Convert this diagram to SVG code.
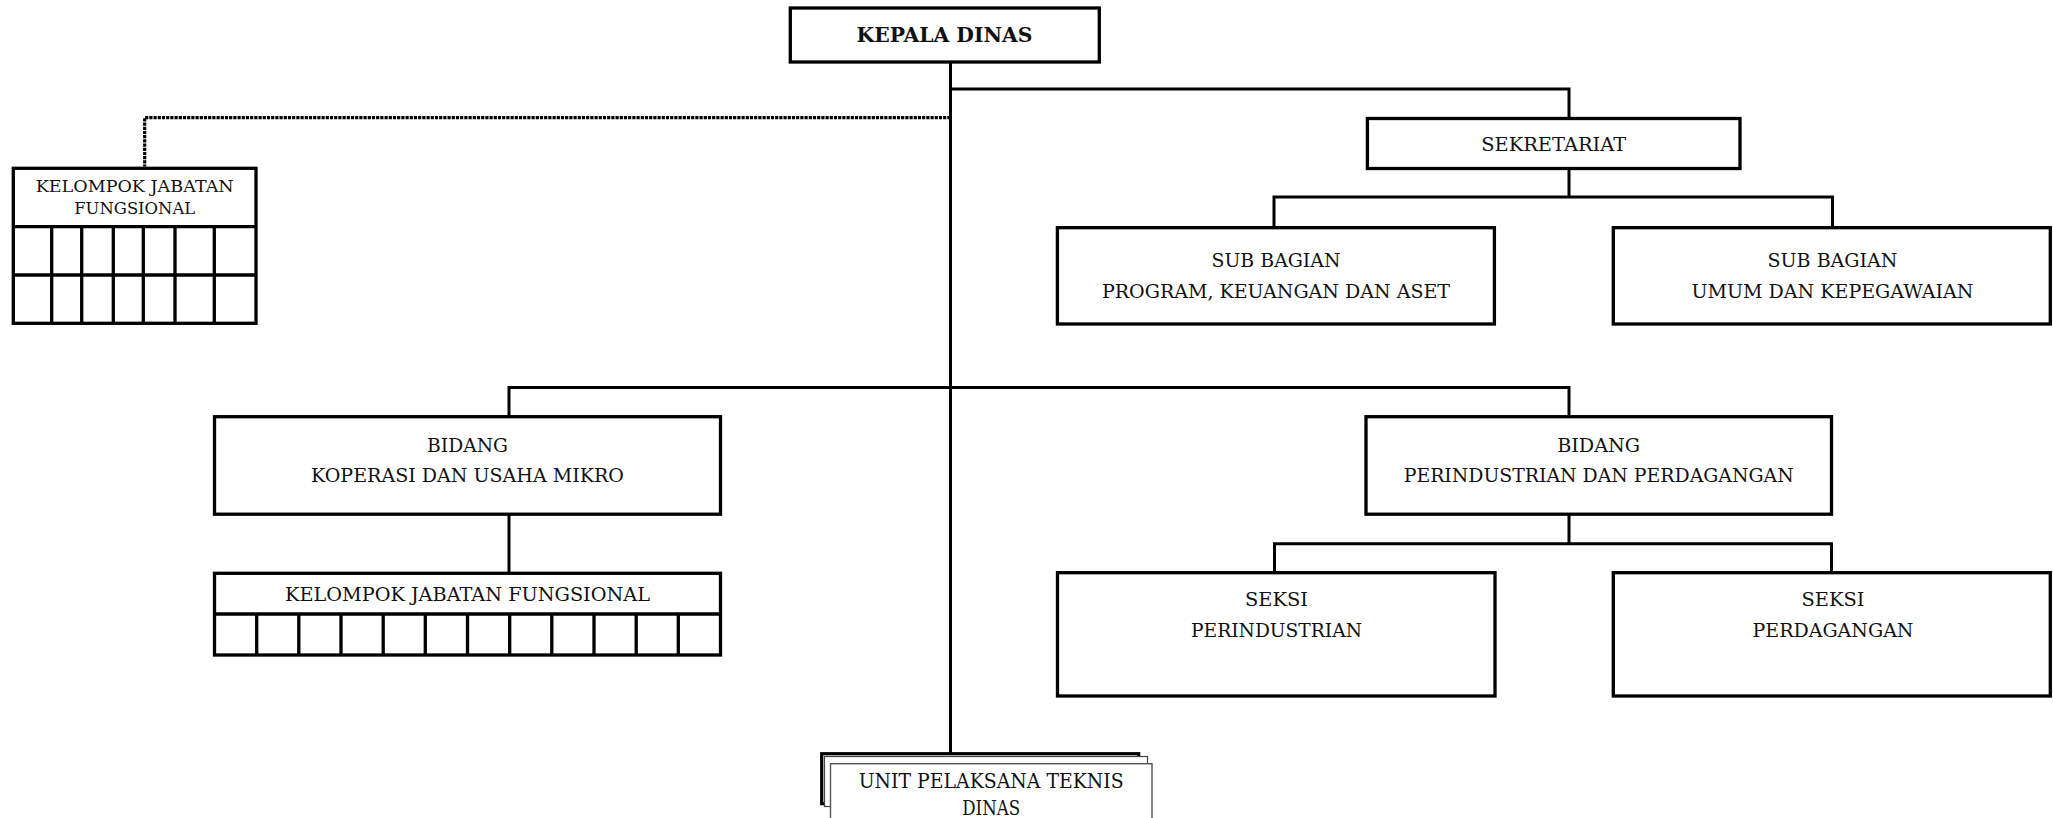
<svg xmlns="http://www.w3.org/2000/svg" width="2053" height="818" viewBox="0 0 2053 818">
  <style>
    .box { fill: #fff; stroke: #000; stroke-width: 3.3; }
    .grid { fill: none; stroke: #000; stroke-width: 3.3; }
    .link { fill: none; stroke: #000; stroke-width: 3; stroke-linejoin: miter; stroke-linecap: square; }
    .dot { fill: none; stroke: #000; stroke-width: 3.2; stroke-dasharray: 3.2 1; }
    text { font-family: "DejaVu Serif", "Liberation Serif", serif; font-size: 18.8px; fill: #111; text-anchor: middle; }
    .head { font-weight: bold; font-size: 20px; }
    .small { font-size: 17px; }
    .upt { font-size: 19.8px; }
  </style>

  <rect width="2053" height="818" fill="#fff"/>

  <!-- connectors -->
  <g id="connectors">
    <path class="link" d="M950.5,62 V752"/>
    <path class="link" d="M950.5,89 H1569 V118.5"/>
    <path class="dot" d="M950.5,117.7 H144.7 V166.5"/>
    <path class="link" d="M1569,168.5 V197 M1274,227.7 V197 H1832.5 V227.7"/>
    <path class="link" d="M509,416.7 V387.5 H1569 V416.7"/>
    <path class="link" d="M509,514 V573.3"/>
    <path class="link" d="M1569,514 V543.7 M1274.5,572.7 V543.7 H1831.5 V572.7"/>
  </g>

  <!-- head of office -->
  <g id="kepala-dinas">
    <rect class="box" x="790.3" y="8" width="309" height="54" stroke-width="4"/>
    <text class="head" x="944.5" y="42" textLength="176" lengthAdjust="spacingAndGlyphs">KEPALA DINAS</text>
  </g>

  <!-- functional group (top left) -->
  <g id="kjf-atas">
    <rect class="box" x="13.3" y="168.3" width="242.7" height="155"/>
    <path class="grid" d="M13.3,226.7 H256 M13.3,275 H256 M51.7,226.7 V323.3 M81.7,226.7 V323.3 M113.3,226.7 V323.3 M143.3,226.7 V323.3 M175,226.7 V323.3 M214.3,226.7 V323.3"/>
    <text class="small" x="134.7" y="192" textLength="198" lengthAdjust="spacingAndGlyphs">KELOMPOK JABATAN</text>
    <text class="small" x="134.7" y="214" textLength="121" lengthAdjust="spacingAndGlyphs">FUNGSIONAL</text>
  </g>

  <!-- secretariat -->
  <g id="sekretariat">
    <rect class="box" x="1367.4" y="118.5" width="372.6" height="50"/>
    <text x="1553.7" y="150.5" textLength="145" lengthAdjust="spacingAndGlyphs">SEKRETARIAT</text>
  </g>

  <g id="subbag-program">
    <rect class="box" x="1057.4" y="227.7" width="437" height="96.3"/>
    <text x="1276" y="267" textLength="129" lengthAdjust="spacingAndGlyphs">SUB BAGIAN</text>
    <text x="1276" y="298" textLength="348" lengthAdjust="spacingAndGlyphs">PROGRAM, KEUANGAN DAN ASET</text>
  </g>

  <g id="subbag-umum">
    <rect class="box" x="1613.3" y="227.7" width="437" height="96.3"/>
    <text x="1832.5" y="267" textLength="130" lengthAdjust="spacingAndGlyphs">SUB BAGIAN</text>
    <text x="1832.5" y="298" textLength="282" lengthAdjust="spacingAndGlyphs">UMUM DAN KEPEGAWAIAN</text>
  </g>

  <!-- cooperatives division -->
  <g id="bidang-koperasi">
    <rect class="box" x="214.5" y="416.7" width="506" height="97.5"/>
    <text x="467.5" y="452" textLength="81" lengthAdjust="spacingAndGlyphs">BIDANG</text>
    <text x="467.5" y="482" textLength="313" lengthAdjust="spacingAndGlyphs">KOPERASI DAN USAHA MIKRO</text>
  </g>

  <g id="kjf-bawah">
    <rect class="box" x="214.5" y="573.3" width="506" height="81.7"/>
    <path class="grid" d="M214.5,614 H720.5 M256.7,614 V655 M298.8,614 V655 M341,614 V655 M383.2,614 V655 M425.3,614 V655 M467.5,614 V655 M509.7,614 V655 M551.8,614 V655 M594,614 V655 M636.2,614 V655 M678.3,614 V655"/>
    <text x="467.5" y="601" textLength="365" lengthAdjust="spacingAndGlyphs">KELOMPOK JABATAN FUNGSIONAL</text>
  </g>

  <!-- industry and trade division -->
  <g id="bidang-perindag">
    <rect class="box" x="1366" y="416.7" width="465.5" height="97.5"/>
    <text x="1598.7" y="452" textLength="83" lengthAdjust="spacingAndGlyphs">BIDANG</text>
    <text x="1598.7" y="482" textLength="390" lengthAdjust="spacingAndGlyphs">PERINDUSTRIAN DAN PERDAGANGAN</text>
  </g>

  <g id="seksi-perindustrian">
    <rect class="box" x="1057.5" y="572.7" width="437.5" height="123.3"/>
    <text x="1276.5" y="606" textLength="63" lengthAdjust="spacingAndGlyphs">SEKSI</text>
    <text x="1276.5" y="637" textLength="171" lengthAdjust="spacingAndGlyphs">PERINDUSTRIAN</text>
  </g>

  <g id="seksi-perdagangan">
    <rect class="box" x="1613.3" y="572.7" width="437" height="123.3"/>
    <text x="1833" y="606" textLength="63" lengthAdjust="spacingAndGlyphs">SEKSI</text>
    <text x="1833" y="637" textLength="161" lengthAdjust="spacingAndGlyphs">PERDAGANGAN</text>
  </g>

  <!-- technical units, drawn as a stack of sheets -->
  <g id="upt">
    <rect x="821.7" y="753.7" width="317" height="50" fill="#fff" stroke="#000" stroke-width="3.2"/>
    <rect x="824.5" y="756.5" width="323" height="50" fill="#fff" stroke="#444" stroke-width="1.2"/>
    <rect x="830.5" y="763.7" width="321.5" height="70" fill="#fff" stroke="#555" stroke-width="1.4"/>
    <text class="upt" x="991.2" y="788.3" textLength="265" lengthAdjust="spacingAndGlyphs">UNIT PELAKSANA TEKNIS</text>
    <text class="upt" x="991.2" y="815" textLength="58" lengthAdjust="spacingAndGlyphs">DINAS</text>
  </g>
</svg>
